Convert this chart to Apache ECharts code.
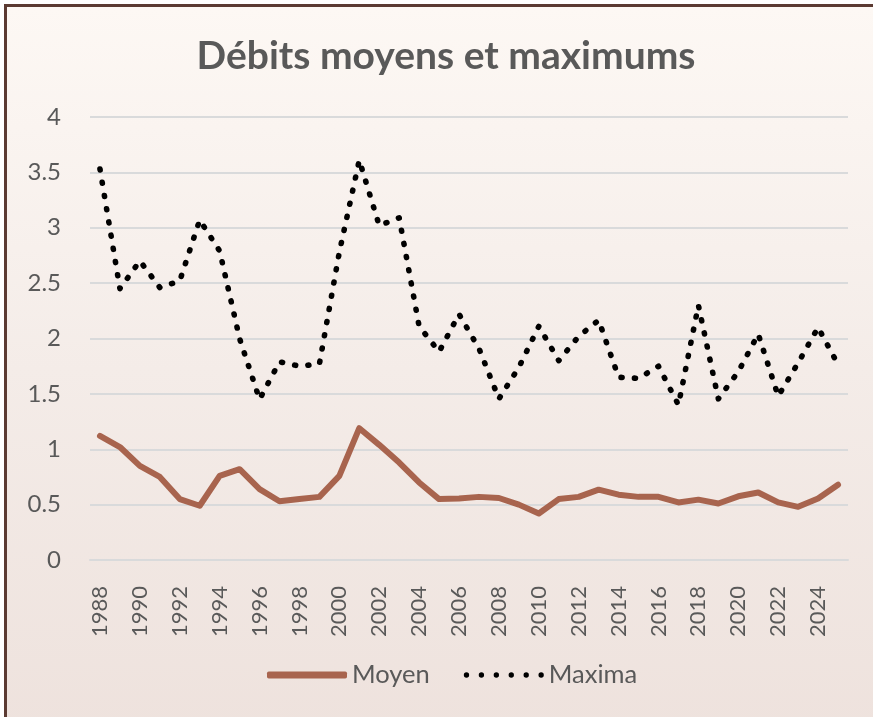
<!DOCTYPE html>
<html>
<head>
<meta charset="utf-8">
<script src="https://cdn.jsdelivr.net/npm/echarts@6/dist/echarts.min.js"></script>
<style>
html,body{margin:0;padding:0;background:#ffffff;width:873px;height:717px;overflow:hidden;}
#bg{position:absolute;left:4px;top:4px;width:880px;height:730px;box-sizing:border-box;border:3px solid #5b3a32;
background:linear-gradient(to bottom,#fdf8f4 0%,#f4ece8 50%,#eee2dd 100%);}
#chart{position:absolute;left:0;top:0;width:873px;height:717px;}
</style>
</head>
<body>
<div id="bg"></div>
<div id="chart"></div>
<script>
const years = ["1988","1989","1990","1991","1992","1993","1994","1995","1996","1997","1998","1999","2000","2001","2002","2003","2004","2005","2006","2007","2008","2009","2010","2011","2012","2013","2014","2015","2016","2017","2018","2019","2020","2021","2022","2023","2024","2025"];
const moyen = [1.12,1.02,0.85,0.75,0.55,0.49,0.76,0.82,0.64,0.53,0.55,0.57,0.76,1.19,1.04,0.88,0.70,0.55,0.555,0.57,0.56,0.50,0.42,0.55,0.57,0.635,0.59,0.57,0.57,0.52,0.545,0.51,0.575,0.61,0.52,0.48,0.555,0.68];
const maxima = [3.53,2.45,2.70,2.46,2.52,3.07,2.79,2.00,1.45,1.79,1.75,1.77,2.78,3.61,3.02,3.09,2.11,1.88,2.22,1.91,1.455,1.74,2.11,1.80,2.02,2.165,1.65,1.64,1.75,1.40,2.30,1.455,1.70,2.04,1.48,1.78,2.10,1.765];
const yTicks = {min:0, max:4, interval:0.5};

const dotsIcon = 'path://' + [2.5,16.5,30.5,44.5,58.5,72.5].map(function(c){
  return 'M' + (c-2.5) + ',2.5a2.5,2.5 0 1,0 5,0a2.5,2.5 0 1,0 -5,0z';
}).join('');

const chart = echarts.init(document.getElementById('chart'), null, {renderer:'canvas'});
chart.setOption({
  backgroundColor:'transparent',
  animation:false,
  title:{
    text:'Débits moyens et maximums',
    left:441, top:32, textAlign:'center',
    textStyle:{fontFamily:'Lato', fontWeight:'bold', fontSize:39, color:'#595959'}
  },
  legend:{
    bottom:24, left:262,
    itemWidth:80, itemHeight:7, itemGap:34,
    textStyle:{fontFamily:'Lato', fontSize:25.5, color:'#595959'},
    data:[
      {name:'Moyen', icon:'roundRect', itemStyle:{color:'#a8644e'}},
      {name:'Maxima', icon:dotsIcon, itemStyle:{color:'#000000'}}
    ]
  },
  grid:{left:90, right:25, top:117, bottom:157, containLabel:false},
  xAxis:{
    type:'category', data:years, boundaryGap:true,
    axisLine:{show:true, lineStyle:{color:'#d9dadb', width:2}},
    axisTick:{show:false},
    axisLabel:{rotate:90, interval:1, margin:26, fontFamily:'Lato', fontSize:22, color:'#595959'}
  },
  yAxis:{
    type:'value', min:yTicks.min, max:yTicks.max, interval:yTicks.interval,
    axisLine:{show:false}, axisTick:{show:false},
    axisLabel:{margin:29, fontFamily:'Lato', fontSize:24, color:'#595959'},
    splitLine:{lineStyle:{color:'#d9dadb', width:2}}
  },
  series:[
    {name:'Moyen', type:'line', data:moyen, symbol:'none',
     lineStyle:{color:'#a8644e', width:6, cap:'round', join:'round'},
     itemStyle:{color:'#a8644e'}},
    {name:'Maxima', type:'line', data:maxima, symbol:'none',
     lineStyle:{color:'#000000', width:5.6, type:[1,12.4], cap:'round', join:'round'},
     itemStyle:{color:'#000000'}}
  ]
});
</script>
</body>
</html>
